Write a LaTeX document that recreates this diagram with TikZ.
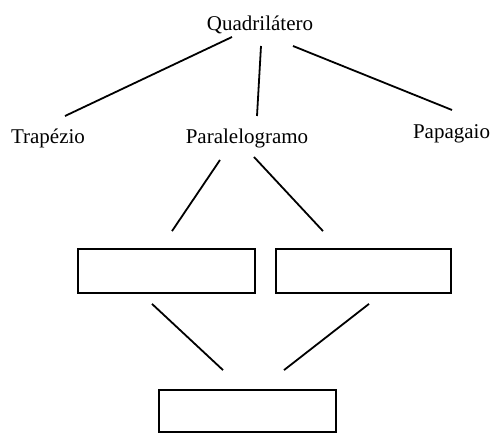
\documentclass[tikz,border=0pt]{standalone}
\usepackage{fontspec}
\setmainfont{Liberation Serif}
\usetikzlibrary{positioning}

\begin{document}
\begin{tikzpicture}[x=1pt, y=1pt,
    label/.style={inner sep=0pt, anchor=base, font=\fontsize{21}{25}\selectfont},
    slot/.style={draw, line width=1.8pt, inner sep=0pt},
    link/.style={line width=1.8pt}]
    \useasboundingbox (0,0) rectangle (492,433);

    % Names of the shapes
    \node[label] (quad) at (260, 402) {Quadrilátero};
    \node[label] (trap) at (48, 289) {Trapézio};
    \node[label] (para) at (247, 289) {Paralelogramo};
    \node[label] (papa) at (451.5, 294) {Papagaio};

    % Empty boxes
    \node[slot, minimum width=177pt, minimum height=44pt] (boxl) at (166.5, 162) {};
    \node[slot, minimum width=175pt, minimum height=44pt] (boxr) at (363.5, 162) {};
    \node[slot, minimum width=177pt, minimum height=42pt] (boxb) at (247.5, 22) {};

    % Top level links
    \draw[link] ([xshift=-28pt, yshift=-6pt]quad.base) -- ([xshift=17pt, yshift=28pt]trap.base);
    \draw[link] ([xshift=1pt, yshift=-15pt]quad.base) -- ([xshift=10pt, yshift=28pt]para.base);
    \draw[link] ([xshift=33pt, yshift=-15pt]quad.base) -- ([xshift=0.5pt, yshift=29pt]papa.base);

    % Paralelogramo to the boxes
    \draw[link] ([xshift=-27pt, yshift=-16pt]para.base) -- ([xshift=5.5pt, yshift=17pt]boxl.north);
    \draw[link] ([xshift=7pt, yshift=-13pt]para.base) -- ([xshift=-40.5pt, yshift=17pt]boxr.north);

    % Boxes to the bottom box
    \draw[link] ([xshift=-14.5pt, yshift=-10pt]boxl.south) -- ([xshift=-24.5pt, yshift=19pt]boxb.north);
    \draw[link] ([xshift=5.5pt, yshift=-10pt]boxr.south) -- ([xshift=36.5pt, yshift=19pt]boxb.north);
\end{tikzpicture}
\end{document}
